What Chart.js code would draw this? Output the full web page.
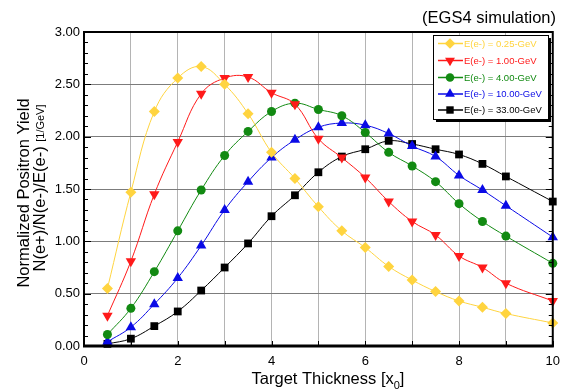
<!DOCTYPE html>
<html>
<head>
<meta charset="utf-8">
<script src="https://cdn.jsdelivr.net/npm/chart.js@4.4.1/dist/chart.umd.min.js"></script>
<style>
  html, body { margin: 0; padding: 0; background: #fff; }
  #wrap { width: 568px; height: 389px; position: relative; }
</style>
</head>
<body>
<div id="wrap"><canvas id="yieldChart" width="568" height="389"></canvas></div>
<script>
// target thickness in radiation lengths (no point at 9.5)
const thickness = [0.5, 1, 1.5, 2, 2.5, 3, 3.5, 4, 4.5, 5, 5.5, 6, 6.5, 7, 7.5, 8, 8.5, 9, 10];
const energyLabels = ['E(e-) = 0.25-GeV', 'E(e-) = 1.00-GeV', 'E(e-) = 4.00-GeV', 'E(e-) = 10.00-GeV', 'E(e-) = 33.00-GeV'];
const yield025 = [0.55, 1.47, 2.24, 2.56, 2.67, 2.50, 2.22, 1.85, 1.60, 1.33, 1.10, 0.94, 0.76, 0.63, 0.52, 0.43, 0.37, 0.31, 0.22];
const yield100 = [0.29, 0.81, 1.45, 1.95, 2.41, 2.56, 2.57, 2.42, 2.31, 1.98, 1.80, 1.61, 1.38, 1.19, 1.06, 0.86, 0.75, 0.60, 0.43];
const yield400 = [0.11, 0.36, 0.71, 1.10, 1.49, 1.82, 2.05, 2.24, 2.32, 2.26, 2.20, 2.04, 1.85, 1.72, 1.57, 1.36, 1.19, 1.05, 0.79];
const yield1000 = [0.04, 0.18, 0.40, 0.65, 0.96, 1.30, 1.57, 1.80, 1.97, 2.09, 2.13, 2.11, 2.03, 1.91, 1.81, 1.63, 1.49, 1.34, 1.04];
const yield3300 = [0.02, 0.07, 0.19, 0.33, 0.53, 0.75, 0.98, 1.24, 1.44, 1.66, 1.81, 1.88, 1.96, 1.93, 1.88, 1.83, 1.74, 1.62, 1.38];
const yTickLabels = ['0.00', '0.50', '1.00', '1.50', '2.00', '2.50', '3.00'];
const xTickLabels = ['0', '2', '4', '6', '8', '10'];

const FONT = "'Liberation Sans', Arial, sans-serif";

const styles = [
  { color: '#FFD43F', point: 'rectRot', radius: 5.5, rotation: 0 },
  { color: '#FF1A1A', point: 'triangle', radius: 6, rotation: 180 },
  { color: '#128A12', point: 'circle', radius: 4.5, rotation: 0 },
  { color: '#0A0AE6', point: 'triangle', radius: 6, rotation: 0 },
  { color: '#000000', point: 'rect', radius: 5.5, rotation: 0 }
];
const series = [yield025, yield100, yield400, yield1000, yield3300];

const datasets = series.map((vals, i) => ({
  label: energyLabels[i],
  data: thickness.map((t, j) => ({ x: t, y: vals[j] })),
  borderColor: styles[i].color,
  backgroundColor: styles[i].color,
  borderWidth: 1,
  tension: 0.4,
  pointStyle: styles[i].point,
  pointRadius: styles[i].radius,
  pointRotation: styles[i].rotation,
  pointBorderWidth: 0,
  clip: false
}));

function drawMarker(ctx, s, x, y) {
  const r = s.radius;
  ctx.save();
  ctx.fillStyle = s.color;
  ctx.beginPath();
  if (s.point === 'circle') {
    ctx.arc(x, y, r, 0, Math.PI * 2);
  } else if (s.point === 'rect') {
    const h = r * Math.SQRT1_2;
    ctx.rect(x - h, y - h, 2 * h, 2 * h);
  } else if (s.point === 'rectRot') {
    ctx.moveTo(x, y - r); ctx.lineTo(x + r, y); ctx.lineTo(x, y + r); ctx.lineTo(x - r, y);
  } else {
    const dir = s.rotation === 180 ? 1 : -1;
    ctx.moveTo(x, y + dir * r);
    ctx.lineTo(x + r * 0.866, y - dir * r * 0.5);
    ctx.lineTo(x - r * 0.866, y - dir * r * 0.5);
  }
  ctx.closePath();
  ctx.fill();
  ctx.restore();
}

const decorations = {
  id: 'decorations',
  afterDatasetsDraw(chart) {
    const { ctx, chartArea: a, scales } = chart;
    const ys = scales.y, xs = scales.x;
    ctx.save();
    // frame
    ctx.strokeStyle = '#000';
    ctx.lineWidth = 2;
    ctx.strokeRect(a.left, a.top, a.right - a.left, a.bottom - a.top);
    ctx.lineWidth = 3;
    ctx.beginPath(); ctx.moveTo(a.left - 1, a.bottom); ctx.lineTo(a.right + 1, a.bottom); ctx.stroke();
    // minor ticks on y, both sides
    ctx.lineWidth = 1;
    for (let k = 0; k <= 30; k++) {
      const py = Math.round(ys.getPixelForValue(k / 10)) + 0.5;
      const len = k % 5 === 0 ? 7 : 4;
      ctx.beginPath();
      ctx.moveTo(a.left, py); ctx.lineTo(a.left + len, py);
      ctx.moveTo(a.right, py); ctx.lineTo(a.right - len, py);
      ctx.stroke();
    }
    // x ticks at the bottom
    for (let k = 0; k <= 10; k++) {
      const px = Math.round(xs.getPixelForValue(k)) + 0.5;
      ctx.beginPath(); ctx.moveTo(px, a.bottom); ctx.lineTo(px, a.bottom - 5); ctx.stroke();
    }

    // title
    ctx.fillStyle = '#000';
    ctx.font = '16.5px ' + FONT;
    ctx.textAlign = 'right';
    ctx.textBaseline = 'middle';
    ctx.fillText('(EGS4 simulation)', 556, 18);

    // x axis title with subscript
    ctx.textAlign = 'left';
    ctx.textBaseline = 'alphabetic';
    const xt = 'Target Thickness [x';
    ctx.font = '16.5px ' + FONT;
    const w1 = ctx.measureText(xt).width;
    ctx.font = '11px ' + FONT;
    const w2 = ctx.measureText('0').width;
    ctx.font = '16.5px ' + FONT;
    const w3 = ctx.measureText(']').width;
    let sx = 328 - (w1 + w2 + w3) / 2;
    ctx.fillText(xt, sx, 384);
    ctx.font = '11px ' + FONT;
    ctx.fillText('0', sx + w1, 389);
    ctx.font = '16.5px ' + FONT;
    ctx.fillText(']', sx + w1 + w2, 384);

    // y axis title, two lines
    ctx.save();
    ctx.rotate(-Math.PI / 2);
    ctx.textAlign = 'center';
    ctx.font = '16.5px ' + FONT;
    ctx.fillText('Normalized Positron Yield', -193, 29);
    const l2a = 'N(e+)/N(e-)/E(e-) ';
    const l2b = '[1/GeV]';
    const wa = ctx.measureText(l2a).width;
    ctx.font = '11px ' + FONT;
    const wb = ctx.measureText(l2b).width;
    const start = -188 - (wa + wb) / 2;
    ctx.textAlign = 'left';
    ctx.font = '16.5px ' + FONT;
    ctx.fillText(l2a, start, 45);
    ctx.font = '11px ' + FONT;
    ctx.fillText(l2b, start + wa, 44);
    ctx.restore();

    // legend box with shadow
    const bx = 433, by = 35, bw = 115, bh = 84;
    ctx.fillStyle = '#000';
    ctx.fillRect(bx + 3, by + 3, bw, bh);
    ctx.fillStyle = '#fff';
    ctx.fillRect(bx, by, bw, bh);
    ctx.lineWidth = 1;
    ctx.strokeStyle = '#000';
    ctx.strokeRect(bx + 0.5, by + 0.5, bw, bh);
    ctx.font = '9.5px ' + FONT;
    ctx.textBaseline = 'middle';
    ctx.textAlign = 'left';
    const rows = [43.5, 60.5, 77.5, 94, 110];
    styles.forEach((s, i) => {
      const ry = rows[i];
      ctx.strokeStyle = s.color;
      ctx.lineWidth = 1.5;
      ctx.beginPath(); ctx.moveTo(438, ry); ctx.lineTo(463, ry); ctx.stroke();
      drawMarker(ctx, Object.assign({}, s, { radius: s.radius * 0.95 }), 450, ry);
      ctx.fillStyle = s.color;
      ctx.fillText(energyLabels[i], 464, ry + 0.5);
    });
    ctx.restore();
  }
};

new Chart(document.getElementById('yieldChart'), {
  type: 'line',
  data: { datasets },
  options: {
    responsive: false,
    animation: false,
    layout: { padding: { top: 32, right: 8, left: 0, bottom: 0 } },
    plugins: { legend: { display: false }, tooltip: { enabled: false } },
    scales: {
      x: {
        type: 'linear',
        min: 0,
        max: 10,
        afterFit: s => { s.height = 43; },
        ticks: {
          stepSize: 1,
          padding: 8,
          color: '#000',
          font: { family: FONT, size: 13 },
          maxRotation: 0,
          callback: v => (v % 2 === 0 ? xTickLabels[v / 2] : '')
        },
        grid: { color: '#b4b4b4', lineWidth: 1, drawTicks: false },
        border: { display: false }
      },
      y: {
        min: 0,
        max: 3,
        afterFit: s => { s.width = 84; },
        ticks: {
          stepSize: 0.5,
          padding: 4,
          color: '#000',
          font: { family: FONT, size: 13 },
          callback: v => yTickLabels[Math.round(v * 2)]
        },
        grid: { color: '#7c7c7c', lineWidth: 1, drawTicks: false },
        border: { display: false }
      }
    }
  },
  plugins: [decorations]
});
</script>
</body>
</html>
